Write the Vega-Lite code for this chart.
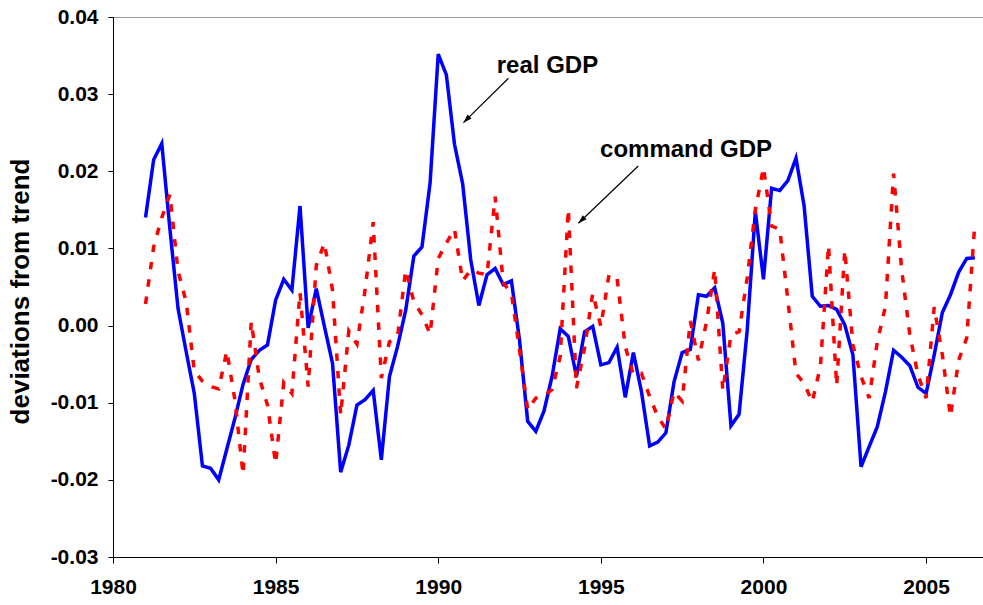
{
  "$schema": "https://vega.github.io/schema/vega-lite/v6.json",
  "width": 870,
  "height": 540,
  "autosize": {"type": "none"},
  "padding": {"left": 113, "top": 17, "right": 0, "bottom": 48},
  "background": "white",
  "config": {
    "view": {"stroke": "#999999", "strokeWidth": 1},
    "font": "Liberation Sans",
    "axis": {
      "labelFont": "Liberation Sans",
      "labelFontWeight": "bold",
      "labelColor": "black",
      "titleFont": "Liberation Sans",
      "titleFontWeight": "bold",
      "titleColor": "black",
      "domainColor": "black",
      "tickColor": "black",
      "grid": false
    }
  },
  "datasets": {
    "real": [
      {"year": 1981.00, "v": 0.0140}, {"year": 1981.25, "v": 0.0215}, {"year": 1981.50, "v": 0.0236}, {"year": 1981.75, "v": 0.0125},
      {"year": 1982.00, "v": 0.0022}, {"year": 1982.25, "v": -0.0034}, {"year": 1982.50, "v": -0.0088}, {"year": 1982.75, "v": -0.0182},
      {"year": 1983.00, "v": -0.0185}, {"year": 1983.25, "v": -0.0200}, {"year": 1983.50, "v": -0.0160}, {"year": 1983.75, "v": -0.0120},
      {"year": 1984.00, "v": -0.0076}, {"year": 1984.25, "v": -0.0044}, {"year": 1984.50, "v": -0.0032}, {"year": 1984.75, "v": -0.0025},
      {"year": 1985.00, "v": 0.0033}, {"year": 1985.25, "v": 0.0060}, {"year": 1985.50, "v": 0.0046}, {"year": 1985.75, "v": 0.0155},
      {"year": 1986.00, "v": -0.0003}, {"year": 1986.25, "v": 0.0048}, {"year": 1986.50, "v": -0.0001}, {"year": 1986.75, "v": -0.0049},
      {"year": 1987.00, "v": -0.0190}, {"year": 1987.25, "v": -0.0155}, {"year": 1987.50, "v": -0.0103}, {"year": 1987.75, "v": -0.0096},
      {"year": 1988.00, "v": -0.0084}, {"year": 1988.25, "v": -0.0174}, {"year": 1988.50, "v": -0.0066}, {"year": 1988.75, "v": -0.0027},
      {"year": 1989.00, "v": 0.0020}, {"year": 1989.25, "v": 0.0090}, {"year": 1989.50, "v": 0.0102}, {"year": 1989.75, "v": 0.0185},
      {"year": 1990.00, "v": 0.0352}, {"year": 1990.25, "v": 0.0325}, {"year": 1990.50, "v": 0.0235}, {"year": 1990.75, "v": 0.0184},
      {"year": 1991.00, "v": 0.0085}, {"year": 1991.25, "v": 0.0026}, {"year": 1991.50, "v": 0.0066}, {"year": 1991.75, "v": 0.0074},
      {"year": 1992.00, "v": 0.0053}, {"year": 1992.25, "v": 0.0058}, {"year": 1992.50, "v": -0.0019}, {"year": 1992.75, "v": -0.0124},
      {"year": 1993.00, "v": -0.0137}, {"year": 1993.25, "v": -0.0111}, {"year": 1993.50, "v": -0.0066}, {"year": 1993.75, "v": -0.0004},
      {"year": 1994.00, "v": -0.0014}, {"year": 1994.25, "v": -0.0066}, {"year": 1994.50, "v": -0.0008}, {"year": 1994.75, "v": -0.0001},
      {"year": 1995.00, "v": -0.0051}, {"year": 1995.25, "v": -0.0048}, {"year": 1995.50, "v": -0.0028}, {"year": 1995.75, "v": -0.0093},
      {"year": 1996.00, "v": -0.0035}, {"year": 1996.25, "v": -0.0086}, {"year": 1996.50, "v": -0.0156}, {"year": 1996.75, "v": -0.0151},
      {"year": 1997.00, "v": -0.0139}, {"year": 1997.25, "v": -0.0073}, {"year": 1997.50, "v": -0.0035}, {"year": 1997.75, "v": -0.0031},
      {"year": 1998.00, "v": 0.0040}, {"year": 1998.25, "v": 0.0038}, {"year": 1998.50, "v": 0.0049}, {"year": 1998.75, "v": 0.0003},
      {"year": 1999.00, "v": -0.0130}, {"year": 1999.25, "v": -0.0115}, {"year": 1999.50, "v": -0.0006}, {"year": 1999.75, "v": 0.0148},
      {"year": 2000.00, "v": 0.0060}, {"year": 2000.25, "v": 0.0178}, {"year": 2000.50, "v": 0.0175}, {"year": 2000.75, "v": 0.0188},
      {"year": 2001.00, "v": 0.0217}, {"year": 2001.25, "v": 0.0155}, {"year": 2001.50, "v": 0.0038}, {"year": 2001.75, "v": 0.0025},
      {"year": 2002.00, "v": 0.0026}, {"year": 2002.25, "v": 0.0021}, {"year": 2002.50, "v": 0.0001}, {"year": 2002.75, "v": -0.0038},
      {"year": 2003.00, "v": -0.0183}, {"year": 2003.25, "v": -0.0157}, {"year": 2003.50, "v": -0.0131}, {"year": 2003.75, "v": -0.0086},
      {"year": 2004.00, "v": -0.0032}, {"year": 2004.25, "v": -0.0041}, {"year": 2004.50, "v": -0.0052}, {"year": 2004.75, "v": -0.0080},
      {"year": 2005.00, "v": -0.0088}, {"year": 2005.25, "v": -0.0038}, {"year": 2005.50, "v": 0.0017}, {"year": 2005.75, "v": 0.0040},
      {"year": 2006.00, "v": 0.0069}, {"year": 2006.25, "v": 0.0087}, {"year": 2006.50, "v": 0.0088}
    ],
    "command": [
      {"year": 1981.00, "v": 0.0028}, {"year": 1981.25, "v": 0.0102}, {"year": 1981.50, "v": 0.0140}, {"year": 1981.75, "v": 0.0170},
      {"year": 1982.00, "v": 0.0070}, {"year": 1982.25, "v": 0.0031}, {"year": 1982.50, "v": -0.0059}, {"year": 1982.75, "v": -0.0072},
      {"year": 1983.00, "v": -0.0079}, {"year": 1983.25, "v": -0.0082}, {"year": 1983.50, "v": -0.0033}, {"year": 1983.75, "v": -0.0097},
      {"year": 1984.00, "v": -0.0193}, {"year": 1984.25, "v": 0.0005}, {"year": 1984.50, "v": -0.0068}, {"year": 1984.75, "v": -0.0103},
      {"year": 1985.00, "v": -0.0179}, {"year": 1985.25, "v": -0.0074}, {"year": 1985.50, "v": -0.0088}, {"year": 1985.75, "v": 0.0043},
      {"year": 1986.00, "v": -0.0079}, {"year": 1986.25, "v": 0.0078}, {"year": 1986.50, "v": 0.0107}, {"year": 1986.75, "v": 0.0046},
      {"year": 1987.00, "v": -0.0116}, {"year": 1987.25, "v": -0.0007}, {"year": 1987.50, "v": -0.0024}, {"year": 1987.75, "v": 0.0046},
      {"year": 1988.00, "v": 0.0134}, {"year": 1988.25, "v": -0.0068}, {"year": 1988.50, "v": -0.0021}, {"year": 1988.75, "v": -0.0014},
      {"year": 1989.00, "v": 0.0072}, {"year": 1989.25, "v": 0.0031}, {"year": 1989.50, "v": 0.0014}, {"year": 1989.75, "v": -0.0011},
      {"year": 1990.00, "v": 0.0087}, {"year": 1990.25, "v": 0.0107}, {"year": 1990.50, "v": 0.0125}, {"year": 1990.75, "v": 0.0058},
      {"year": 1991.00, "v": 0.0072}, {"year": 1991.25, "v": 0.0068}, {"year": 1991.50, "v": 0.0066}, {"year": 1991.75, "v": 0.0167},
      {"year": 1992.00, "v": 0.0055}, {"year": 1992.25, "v": 0.0042}, {"year": 1992.50, "v": -0.0032}, {"year": 1992.75, "v": -0.0109},
      {"year": 1993.00, "v": -0.0094}, {"year": 1993.25, "v": -0.0091}, {"year": 1993.50, "v": -0.0083}, {"year": 1993.75, "v": -0.0040},
      {"year": 1994.00, "v": 0.0151}, {"year": 1994.25, "v": -0.0081}, {"year": 1994.50, "v": -0.0029}, {"year": 1994.75, "v": 0.0042},
      {"year": 1995.00, "v": -0.0001}, {"year": 1995.25, "v": 0.0066}, {"year": 1995.50, "v": 0.0061}, {"year": 1995.75, "v": -0.0027},
      {"year": 1996.00, "v": -0.0064}, {"year": 1996.25, "v": -0.0062}, {"year": 1996.50, "v": -0.0092}, {"year": 1996.75, "v": -0.0118},
      {"year": 1997.00, "v": -0.0134}, {"year": 1997.25, "v": -0.0086}, {"year": 1997.50, "v": -0.0098}, {"year": 1997.75, "v": 0.0006},
      {"year": 1998.00, "v": -0.0045}, {"year": 1998.25, "v": 0.0005}, {"year": 1998.50, "v": 0.0073}, {"year": 1998.75, "v": -0.0084},
      {"year": 1999.00, "v": -0.0012}, {"year": 1999.25, "v": -0.0008}, {"year": 1999.50, "v": 0.0062}, {"year": 1999.75, "v": 0.0150},
      {"year": 2000.00, "v": 0.0205}, {"year": 2000.25, "v": 0.0129}, {"year": 2000.50, "v": 0.0125}, {"year": 2000.75, "v": 0.0033},
      {"year": 2001.00, "v": -0.0062}, {"year": 2001.25, "v": -0.0075}, {"year": 2001.50, "v": -0.0099}, {"year": 2001.75, "v": -0.0053},
      {"year": 2002.00, "v": 0.0104}, {"year": 2002.25, "v": -0.0078}, {"year": 2002.50, "v": 0.0098}, {"year": 2002.75, "v": -0.0025},
      {"year": 2003.00, "v": -0.0066}, {"year": 2003.25, "v": -0.0094}, {"year": 2003.50, "v": -0.0021}, {"year": 2003.75, "v": 0.0025},
      {"year": 2004.00, "v": 0.0197}, {"year": 2004.25, "v": 0.0072}, {"year": 2004.50, "v": -0.0012}, {"year": 2004.75, "v": -0.0064},
      {"year": 2005.00, "v": -0.0094}, {"year": 2005.25, "v": 0.0024}, {"year": 2005.50, "v": -0.0038}, {"year": 2005.75, "v": -0.0118},
      {"year": 2006.00, "v": -0.0045}, {"year": 2006.25, "v": -0.0016}, {"year": 2006.50, "v": 0.0133}
    ],
    "arrows": [
      {"x": 1992.16, "y": 0.03206, "x2": 1990.775, "y2": 0.02630, "ang": 225},
      {"x": 1996.15, "y": 0.02069, "x2": 1994.31, "y2": 0.01326, "ang": 226}
    ],
    "labels": [
      {"x": 1991.80, "y": 0.0327, "text": "real GDP"},
      {"x": 1994.975, "y": 0.0219, "text": "command GDP"}
    ]
  },
  "encoding": {
    "x": {
      "field": "year", "type": "quantitative",
      "scale": {"domain": [1980, 2006.75], "nice": false, "zero": false},
      "axis": {
        "title": null, "values": [1980, 1985, 1990, 1995, 2000, 2005], "format": "d",
        "labelFontSize": 21, "tickSize": 6, "labelPadding": 13, "labelFlush": false
      }
    },
    "y": {
      "field": "v", "type": "quantitative",
      "scale": {"domain": [-0.03, 0.04], "nice": false, "zero": false},
      "axis": {
        "title": "deviations from trend",
        "values": [-0.03, -0.02, -0.01, 0, 0.01, 0.02, 0.03, 0.04],
        "labelExpr": "(datum.value < -0.0001 ? '-' : '') + format(abs(datum.value), '.2f')",
        "labelFontSize": 21, "tickSize": 5, "labelPadding": 10,
        "titleFontSize": 26, "titlePadding": 17, "titleY": 274
      }
    }
  },
  "layer": [
    {
      "data": {"name": "real"},
      "mark": {"type": "line", "color": "#0000FF", "strokeWidth": 3.5, "strokeJoin": "miter", "clip": true}
    },
    {
      "data": {"name": "command"},
      "mark": {"type": "line", "color": "#FF0000", "strokeWidth": 3.5, "strokeDash": [7.5, 10], "strokeCap": "butt", "clip": true}
    },
    {
      "data": {"name": "arrows"},
      "mark": {"type": "rule", "color": "black", "strokeWidth": 1.2},
      "encoding": {
        "x": {"field": "x", "type": "quantitative"},
        "y": {"field": "y", "type": "quantitative"},
        "x2": {"field": "x2"},
        "y2": {"field": "y2"}
      }
    },
    {
      "data": {"name": "arrows"},
      "mark": {"type": "point", "filled": true, "color": "black", "opacity": 1, "size": 300, "shape": "M0,0 L0.32,1 L-0.32,1 Z"},
      "encoding": {
        "x": {"field": "x2", "type": "quantitative"},
        "y": {"field": "y2", "type": "quantitative"},
        "angle": {"field": "ang", "type": "quantitative", "scale": null}
      }
    },
    {
      "data": {"name": "labels"},
      "mark": {"type": "text", "align": "left", "baseline": "alphabetic", "font": "Liberation Sans", "fontWeight": "bold", "fontSize": 24, "color": "black"},
      "encoding": {
        "x": {"field": "x", "type": "quantitative"},
        "y": {"field": "y", "type": "quantitative"},
        "text": {"field": "text"}
      }
    }
  ]
}
